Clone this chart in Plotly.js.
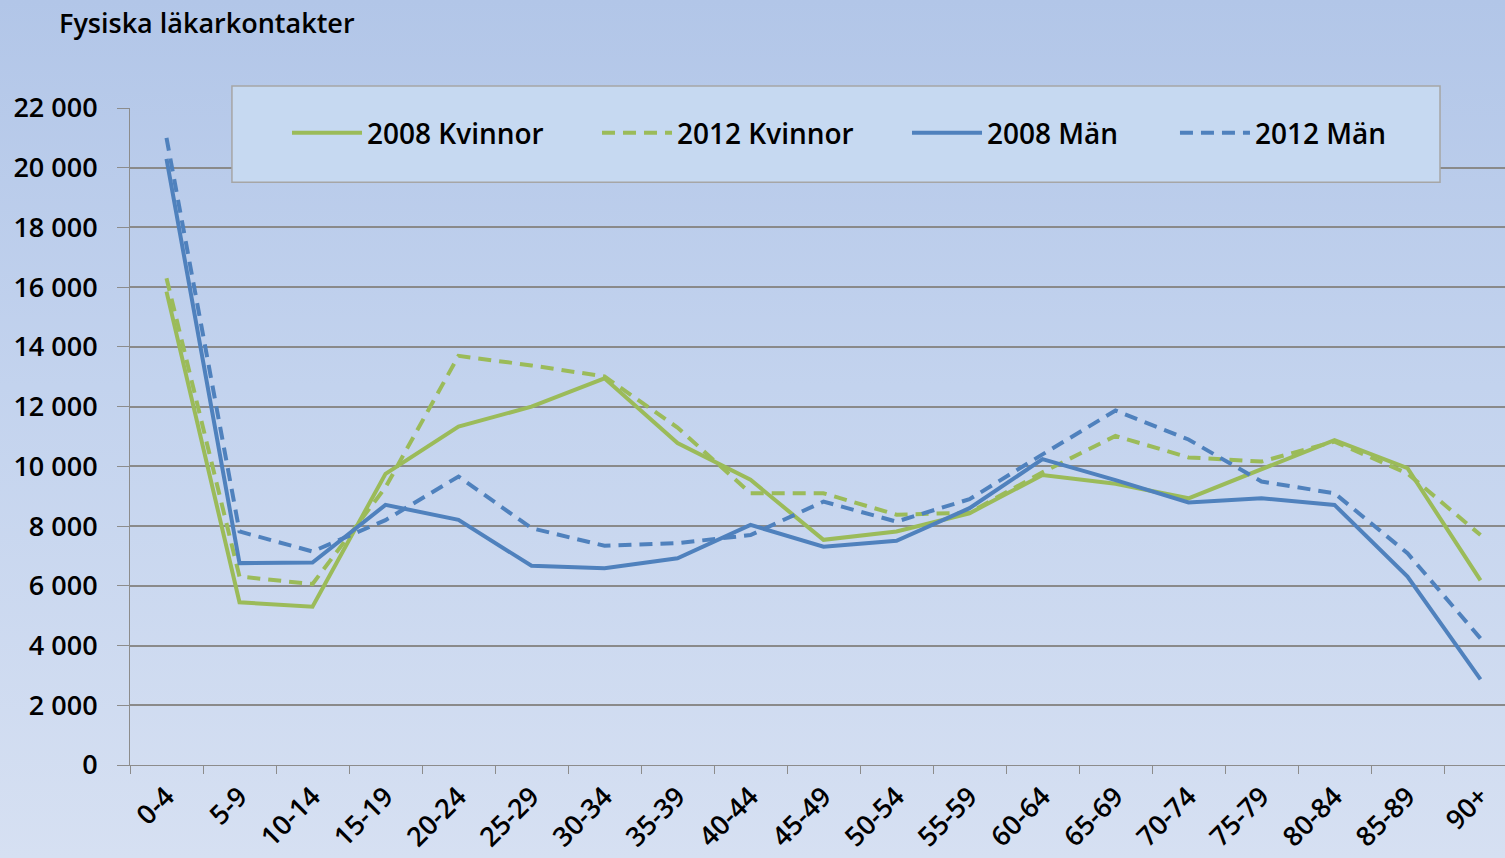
<!DOCTYPE html>
<html>
<head>
<meta charset="utf-8">
<script src="https://cdn.plot.ly/plotly-3.0.1.min.js"></script>
<style>
html, body { margin:0; padding:0; overflow:hidden; }
#chart {
  width:1520px; height:858px;
  background: linear-gradient(to bottom, #b2c6e8 0%, #c3d3ee 45%, #d6e0f2 100%);
}
</style>
</head>
<body>
<div id="chart"></div>
<script>
// age groups
let ageGroups = ["0-4","5-9","10-14","15-19","20-24","25-29","30-34","35-39","40-44","45-49",
  "50-54","55-59","60-64","65-69","70-74","75-79","80-84","85-89","90+"];

// values
let kvinnor2008 = [15850,5450,5300,9750,11330,12000,12950,10780,9550,7540,7820,8430,9710,9420,8930,9920,10880,9940,6180];
let kvinnor2012 = [16300,6310,6060,9300,13700,13380,13010,11300,9100,9100,8380,8450,9800,11020,10300,10160,10830,9760,7700];
let man2008 = [20300,6760,6780,8710,8210,6670,6590,6920,8040,7310,7510,8600,10240,9540,8790,8930,8710,6310,2870];
let man2012 = [21000,7820,7150,8200,9660,7930,7340,7430,7700,8820,8150,8900,10400,11870,10900,9490,9100,7090,4240];

let green = '#9bbb59';
let blue = '#4f81bd';
let dashPattern = '13px,8px';

function makeTrace(name, y, color, dashed, legendId){
  return {
    x: ageGroups,
    y: y,
    name: name,
    mode: 'lines',
    legend: legendId,
    line: {color: color, width: 4, dash: dashed ? dashPattern : 'solid'}
  };
}

let traces = [
  makeTrace('2008 Kvinnor', kvinnor2008, green, false, 'legend'),
  makeTrace('2012 Kvinnor', kvinnor2012, green, true, 'legend'),
  makeTrace('2008 Män', man2008, blue, false, 'legend'),
  makeTrace('2012 Män', man2012, blue, true, 'legend2')
];

let fontFam = '"Open Sans", Lato, sans-serif';
let legendFont = {family: fontFam, size: 28, weight: 600, color:'#000'};

let layout = {
  width: 1520,
  height: 858,
  paper_bgcolor: 'rgba(0,0,0,0)',
  plot_bgcolor: 'rgba(0,0,0,0)',
  separators: ', ',
  margin: {l:130, r:3, t:108, b:93},
  font: {family: fontFam, color:'#000', size:24},
  title: {
    text: 'Fysiska läkarkontakter',
    x: 0, xref: 'container', xanchor:'left',
    y: 1, yref: 'container', yanchor:'top',
    pad: {t: 14, l: 59},
    font: {family: fontFam, size: 27, weight: 600, color:'#000'}
  },
  xaxis: {
    type: 'category',
    range: [-0.5, 18.5],
    tickson: 'boundaries',
    ticks: 'outside',
    ticklen: 8,
    tickwidth: 1,
    tickcolor: '#8c8c8c',
    ticklabelstandoff: 4,
    showline: true,
    linecolor: '#8c8c8c',
    linewidth: 1,
    showgrid: false,
    tickangle: -45,
    tickfont: {family: fontFam, size: 27, weight: 600}
  },
  yaxis: {
    range: [0, 22000],
    dtick: 2000,
    tickformat: ',d',
    ticks: 'outside',
    ticklen: 12,
    tickwidth: 1,
    tickcolor: '#8c8c8c',
    ticklabelstandoff: 14,
    showline: true,
    linecolor: '#8c8c8c',
    linewidth: 1,
    showgrid: true,
    gridcolor: '#8a8a8a',
    gridwidth: 1.5,
    zeroline: false,
    tickfont: {family: fontFam, size: 27, weight: 600}
  },
  showlegend: true,
  legend: {
    orientation: 'h',
    x: 0.1132, xanchor: 'left',
    y: 0.962, yanchor: 'middle',
    bgcolor: 'rgba(0,0,0,0)',
    borderwidth: 0,
    itemwidth: 70,
    entrywidth: 225,
    entrywidthmode: 'pixels',
    font: legendFont
  },
  legend2: {
    orientation: 'h',
    x: 0.7534, xanchor: 'left',
    y: 0.962, yanchor: 'middle',
    bgcolor: 'rgba(0,0,0,0)',
    borderwidth: 0,
    itemwidth: 70,
    font: legendFont
  },
  shapes: [{
    type: 'rect', xref: 'paper', yref: 'paper', layer: 'above',
    x0: 0.0735, x1: 0.9445, y0: 0.887, y1: 1.0335,
    fillcolor: '#c6d9f1',
    line: {color: '#a6a6a6', width: 1.5}
  }]
};

Plotly.newPlot('chart', traces, layout, {displayModeBar: false, responsive: false});
</script>
</body>
</html>
